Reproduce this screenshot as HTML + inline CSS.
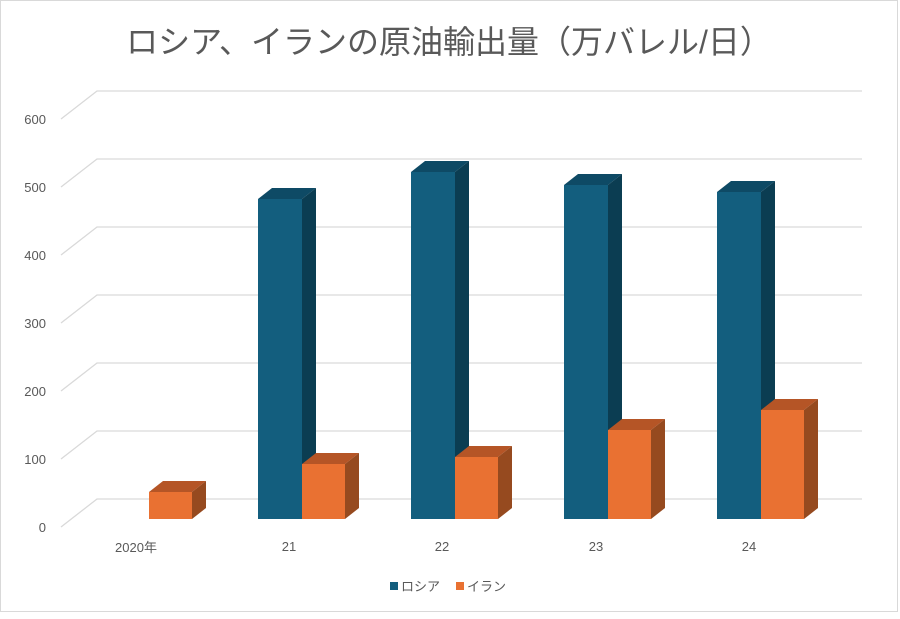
<!DOCTYPE html>
<html><head><meta charset="utf-8"><style>
body{margin:0;background:#fff}
svg text{font-family:"Liberation Sans","Noto Sans CJK JP",sans-serif;fill:#595959}
</style></head><body>
<svg width="900" height="614" xmlns="http://www.w3.org/2000/svg">
<rect x="0.5" y="0.5" width="897" height="611" fill="#fff" stroke="#d9d9d9"/>
<text x="449" y="53" font-size="32" text-anchor="middle">ロシア、イランの原油輸出量（万バレル/日）</text>
<g stroke="#d9d9d9" stroke-width="1.3" fill="none">
<path d="M61,119L97,91H862M61,187L97,159H862M61,255L97,227H862M61,323L97,295H862M61,391L97,363H862M61,459L97,431H862M61,527L97,499H862"/>
</g>
<g font-size="13" text-anchor="end">
<text x="46" y="124">600</text><text x="46" y="192">500</text><text x="46" y="260">400</text>
<text x="46" y="328">300</text><text x="46" y="396">200</text><text x="46" y="464">100</text><text x="46" y="532">0</text>
</g>
<polygon points="149,492 163,481 206,481 192,492" fill="#b55526"/>
<polygon points="192,492 206,481 206,508 192,519" fill="#964a1f"/>
<rect x="149" y="492" width="43" height="27" fill="#e97132"/>
<polygon points="258,199 272,188 316,188 302,199" fill="#0e4a65"/>
<polygon points="302,199 316,188 316,508 302,519" fill="#0b3d52"/>
<rect x="258" y="199" width="44" height="320" fill="#135e7e"/>
<polygon points="302,464 316,453 359,453 345,464" fill="#b55526"/>
<polygon points="345,464 359,453 359,508 345,519" fill="#964a1f"/>
<rect x="302" y="464" width="43" height="55" fill="#e97132"/>
<polygon points="411,172 425,161 469,161 455,172" fill="#0e4a65"/>
<polygon points="455,172 469,161 469,508 455,519" fill="#0b3d52"/>
<rect x="411" y="172" width="44" height="347" fill="#135e7e"/>
<polygon points="455,457 469,446 512,446 498,457" fill="#b55526"/>
<polygon points="498,457 512,446 512,508 498,519" fill="#964a1f"/>
<rect x="455" y="457" width="43" height="62" fill="#e97132"/>
<polygon points="564,185 578,174 622,174 608,185" fill="#0e4a65"/>
<polygon points="608,185 622,174 622,508 608,519" fill="#0b3d52"/>
<rect x="564" y="185" width="44" height="334" fill="#135e7e"/>
<polygon points="608,430 622,419 665,419 651,430" fill="#b55526"/>
<polygon points="651,430 665,419 665,508 651,519" fill="#964a1f"/>
<rect x="608" y="430" width="43" height="89" fill="#e97132"/>
<polygon points="717,192 731,181 775,181 761,192" fill="#0e4a65"/>
<polygon points="761,192 775,181 775,508 761,519" fill="#0b3d52"/>
<rect x="717" y="192" width="44" height="327" fill="#135e7e"/>
<polygon points="761,410 775,399 818,399 804,410" fill="#b55526"/>
<polygon points="804,410 818,399 818,508 804,519" fill="#964a1f"/>
<rect x="761" y="410" width="43" height="109" fill="#e97132"/>
<g font-size="13" text-anchor="middle">
<text x="136" y="552">2020年</text><text x="289" y="551">21</text><text x="442" y="551">22</text><text x="596" y="551">23</text><text x="749" y="551">24</text>
</g>
<rect x="390" y="582" width="8" height="8" fill="#135e7e"/>
<text x="401" y="591" font-size="13">ロシア</text>
<rect x="456" y="582" width="8" height="8" fill="#e97132"/>
<text x="467" y="591" font-size="13">イラン</text>
</svg>
</body></html>
